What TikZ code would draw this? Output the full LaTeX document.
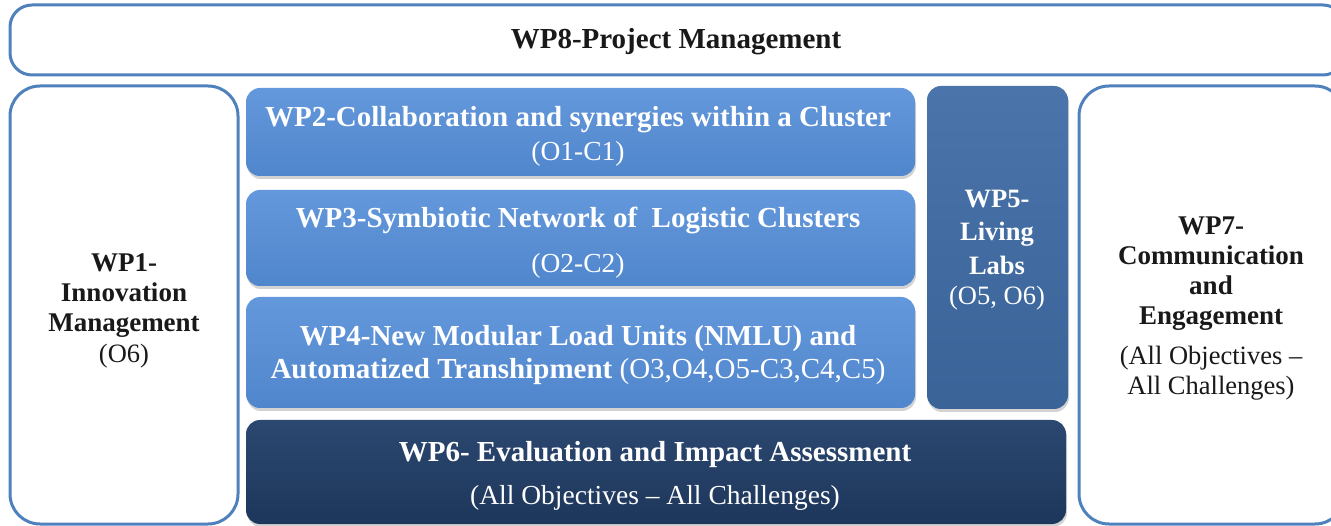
\documentclass[tikz,border=0pt]{standalone}
\usepackage{fontspec}
\setmainfont{Liberation Serif}
\usetikzlibrary{shadows}
\definecolor{frameblue}{RGB}{79,129,189}
\definecolor{midtop}{RGB}{100,152,220}
\definecolor{midmain}{RGB}{85,141,213}
\definecolor{midbot}{RGB}{80,134,204}
\definecolor{labtop}{RGB}{74,116,170}
\definecolor{labmain}{RGB}{62,106,160}
\definecolor{labbot}{RGB}{58,100,152}
\definecolor{evaltop}{RGB}{44,72,112}
\definecolor{evalmain}{RGB}{31,58,97}
\definecolor{evalbot}{RGB}{29,54,91}
\definecolor{inkdark}{RGB}{25,25,25}
\tikzset{
  outlinebox/.style={draw=frameblue, line width=3pt, fill=white, inner sep=0pt},
  wpbox/.style={rounded corners=14pt, inner sep=0pt, draw=none,
    drop shadow={opacity=0.35, shadow xshift=1pt, shadow yshift=-3pt}},
  midwp/.style={wpbox, top color=midtop, middle color=midmain, bottom color=midbot},
  labwp/.style={wpbox, top color=labtop, middle color=labmain, bottom color=labbot},
  evalwp/.style={wpbox, top color=evaltop, middle color=evalmain, bottom color=evalbot},
  titlefont/.style={font=\fontsize{29}{33}\selectfont\bfseries},
  subfont/.style={font=\fontsize{27.5}{30}\selectfont},
  sidetitle/.style={font=\fontsize{27}{30}\selectfont\bfseries},
  sidesub/.style={font=\fontsize{26.5}{30}\selectfont},
  whitetxt/.style={text=white, inner sep=0pt, align=center},
  darktxt/.style={text=inkdark, inner sep=0pt, align=center},
}
\begin{document}
\begin{tikzpicture}[x=1pt,y=-1pt]
\useasboundingbox (0,0) rectangle (1331,526);
\clip (0,0) rectangle (1331,526);

% outline work packages
\node[outlinebox, rounded corners=22pt, minimum width=1335pt, minimum height=70pt] (wp8) at (677.5,40) {};
\node[outlinebox, rounded corners=30pt, minimum width=228pt, minimum height=438pt] (wp1) at (124,305) {};
\node[outlinebox, rounded corners=30pt, minimum width=266pt, minimum height=438pt] (wp7) at (1212,305) {};

% filled work packages
\node[midwp, minimum width=669pt, minimum height=88pt] (wp2) at (580.5,132) {};
\node[midwp, minimum width=669pt, minimum height=96pt] (wp3) at (580.5,238) {};
\node[midwp, minimum width=669pt, minimum height=111pt] (wp4) at (580.5,352.5) {};
\node[labwp, minimum width=141pt, minimum height=323pt] (wp5) at (997.5,247.5) {};
\node[evalwp, minimum width=820pt, minimum height=104pt] (wp6) at (656,472) {};

% labels
\node[darktxt, titlefont] (t8) at (676,42) {WP8-Project Management};

\node[whitetxt, titlefont] (t2) at (578,120) {WP2-Collaboration and synergies within a Cluster};
\node[whitetxt, subfont] (s2) at (578,154) {(O1-C1)};

\node[whitetxt, titlefont] (t3) at (578,220) {WP3-Symbiotic Network of\ \ Logistic Clusters};
\node[whitetxt, subfont] (s3) at (578,266) {(O2-C2)};

\node[whitetxt, titlefont] (t4a) at (578,339) {WP4-New Modular Load Units (NMLU) and};
\node[whitetxt, titlefont] (t4b) at (578,372) {Automatized Transhipment \textmd{(O3,O4,O5-C3,C4,C5)}};

\node[whitetxt, sidetitle, font=\fontsize{26.5}{33.5}\selectfont\bfseries] (t5) at (997,232) {WP5-\\Living\\Labs};
\node[whitetxt, sidesub] (s5) at (997,298) {(O5, O6)};

\node[whitetxt, titlefont] (t6) at (655,455) {WP6- Evaluation and Impact Assessment};
\node[whitetxt, subfont] (s6) at (655,498) {(All Objectives – All Challenges)};

\node[darktxt, sidetitle] (t1) at (124,296) {WP1-\\Innovation\\Management};
\node[darktxt, sidesub] (s1) at (124,356) {(O6)};

\node[darktxt, sidetitle] (t7) at (1211,274) {WP7-\\Communication\\and\\Engagement};
\node[darktxt, sidesub] (s7) at (1211,373) {(All Objectives –\\All Challenges)};
\end{tikzpicture}
\end{document}
